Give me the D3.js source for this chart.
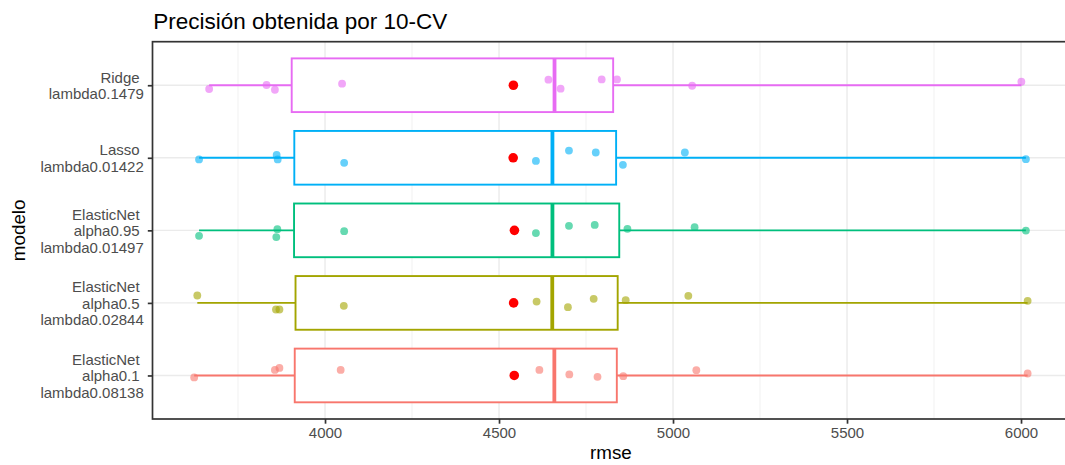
<!DOCTYPE html>
<html>
<head>
<meta charset="utf-8">
<script src="https://cdn.jsdelivr.net/npm/d3@7"></script>
<style>
  html, body { margin: 0; padding: 0; background: #fff; overflow: hidden; }
  svg { display: block; }
  text { font-family: "Liberation Sans", Arial, sans-serif; }
</style>
</head>
<body>
<svg id="chart" width="1065" height="465"></svg>
<script>
// Model labels, top to bottom (trailing spaces come from paste())
const modelos = [
  "Ridge \nlambda0.1479",
  "Lasso \nlambda0.01422",
  "ElasticNet \nalpha0.95 \nlambda0.01497",
  "ElasticNet \nalpha0.5 \nlambda0.02844",
  "ElasticNet \nalpha0.1 \nlambda0.08138"
];
const colores = ["#E76BF3", "#00B0F6", "#00BF7D", "#A3A500", "#F8766D"];

// RMSE of each of the 10 CV folds per model
const rmseRidge  = [3667, 3832, 3856, 4049, 4642, 4677, 4795, 4839, 5055, 6001];
const rmseLasso  = [3638, 3861, 3864, 4055, 4606, 4701, 4778, 4856, 5034, 6014];
const rmseEN095  = [3638, 3863, 3860, 4055, 4606, 4701, 4775, 4869, 5062, 6014];
const rmseEN05   = [3633, 3859, 3869, 4054, 4608, 4698, 4772, 4864, 5044, 6019];
const rmseEN01   = [3624, 3856, 3869, 4045, 4616, 4702, 4783, 4857, 5067, 6019];

// Vertical jitter of each fold point (in category units, positive = up)
const jitRidge = [-0.052, 0.003, -0.062, 0.021, 0.077, -0.048, 0.080, 0.080, -0.007, 0.048];
const jitLasso = [-0.023, 0.040, -0.023, -0.070, -0.043, 0.100, 0.073, -0.097, 0.073, -0.019];
const jitEN095 = [-0.075, 0.016, -0.093, -0.011, -0.038, 0.062, 0.075, 0.021, 0.044, -0.003];
const jitEN05  = [0.102, -0.091, -0.091, -0.040, 0.019, -0.059, 0.056, 0.037, 0.097, 0.029];
const jitEN01  = [-0.027, 0.077, 0.104, 0.077, 0.077, 0.014, -0.019, -0.010, 0.073, 0.027];

const xTicks = [4000, 4500, 5000, 5500, 6000];
const xMinorTicks = [3750, 4250, 4750, 5250, 5750];

const titulo = "Precisión obtenida por 10-CV";
const xTitulo = "rmse";
const yTitulo = "modelo";

const series = [
  { modelo: modelos[0], color: colores[0], rmse: rmseRidge, jit: jitRidge },
  { modelo: modelos[1], color: colores[1], rmse: rmseLasso, jit: jitLasso },
  { modelo: modelos[2], color: colores[2], rmse: rmseEN095, jit: jitEN095 },
  { modelo: modelos[3], color: colores[3], rmse: rmseEN05,  jit: jitEN05 },
  { modelo: modelos[4], color: colores[4], rmse: rmseEN01,  jit: jitEN01 }
];

// Panel geometry
const panel = { left: 152.5, right: 1069.3, top: 41.7, bottom: 419 };
const svg = d3.select("#chart");

// Box statistics (R type-7 quantiles, Tukey whiskers)
series.forEach(s => {
  const v = s.rmse.slice().sort(d3.ascending);
  s.q1 = d3.quantile(v, 0.25);
  s.med = d3.quantile(v, 0.5);
  s.q3 = d3.quantile(v, 0.75);
  const iqr = s.q3 - s.q1;
  s.lo = d3.min(v.filter(d => d >= s.q1 - 1.5 * iqr));
  s.hi = d3.max(v.filter(d => d <= s.q3 + 1.5 * iqr));
  s.mean = d3.mean(v);
});

const allVals = series.flatMap(s => s.rmse);
const [vmin, vmax] = d3.extent(allVals);
const pad = (vmax - vmin) * 0.05;

const x = d3.scaleLinear().domain([vmin - pad, vmax + pad]).range([panel.left, panel.right]);
const y = d3.scalePoint().domain(modelos).range([panel.top, panel.bottom]).padding(0.6);
const step = y.step();

// Gridlines
const grid = svg.append("g");
grid.selectAll("line.minor").data(xMinorTicks).join("line")
  .attr("x1", d => x(d)).attr("x2", d => x(d))
  .attr("y1", panel.top).attr("y2", panel.bottom)
  .attr("stroke", "#EBEBEB").attr("stroke-width", 0.7);
grid.selectAll("line.majx").data(xTicks).join("line")
  .attr("x1", d => x(d)).attr("x2", d => x(d))
  .attr("y1", panel.top).attr("y2", panel.bottom)
  .attr("stroke", "#EBEBEB").attr("stroke-width", 1.4);
grid.selectAll("line.majy").data(modelos).join("line")
  .attr("x1", panel.left).attr("x2", panel.right)
  .attr("y1", d => y(d)).attr("y2", d => y(d))
  .attr("stroke", "#EBEBEB").attr("stroke-width", 1.4);

// Boxplots
const boxHalf = step * 0.37;
const lw = 1.9;
const boxes = svg.append("g").selectAll("g").data(series).join("g");
boxes.append("line")
  .attr("x1", d => x(d.lo)).attr("x2", d => x(d.q1))
  .attr("y1", d => y(d.modelo)).attr("y2", d => y(d.modelo))
  .attr("stroke", d => d.color).attr("stroke-width", lw);
boxes.append("line")
  .attr("x1", d => x(d.q3)).attr("x2", d => x(d.hi))
  .attr("y1", d => y(d.modelo)).attr("y2", d => y(d.modelo))
  .attr("stroke", d => d.color).attr("stroke-width", lw);
boxes.append("rect")
  .attr("x", d => x(d.q1)).attr("width", d => x(d.q3) - x(d.q1))
  .attr("y", d => y(d.modelo) - boxHalf).attr("height", boxHalf * 2)
  .attr("fill", "#fff").attr("stroke", d => d.color).attr("stroke-width", lw);
boxes.append("line")
  .attr("x1", d => x(d.med)).attr("x2", d => x(d.med))
  .attr("y1", d => y(d.modelo) - boxHalf).attr("y2", d => y(d.modelo) + boxHalf)
  .attr("stroke", d => d.color).attr("stroke-width", lw * 2);

// Jittered fold points
const pts = series.flatMap(s => s.rmse.map((v, i) => ({ v, j: s.jit[i], modelo: s.modelo, color: s.color })));
svg.append("g").selectAll("circle").data(pts).join("circle")
  .attr("cx", d => x(d.v))
  .attr("cy", d => y(d.modelo) - d.j * step)
  .attr("r", 3.9)
  .attr("fill", d => d.color)
  .attr("fill-opacity", 0.6);

// Mean per model
svg.append("g").selectAll("circle").data(series).join("circle")
  .attr("cx", d => x(d.mean))
  .attr("cy", d => y(d.modelo))
  .attr("r", 4.8)
  .attr("fill", "#FF0000");

// Panel border
svg.append("rect")
  .attr("x", panel.left).attr("y", panel.top)
  .attr("width", panel.right - panel.left).attr("height", panel.bottom - panel.top)
  .attr("fill", "none").attr("stroke", "#333333").attr("stroke-width", 1.7);

// X axis
const xAxis = svg.append("g")
  .attr("transform", `translate(0,${panel.bottom})`)
  .call(d3.axisBottom(x).tickValues(xTicks).tickSize(4.7).tickPadding(3.6).tickFormat(d3.format("d")));
xAxis.select(".domain").remove();
xAxis.selectAll(".tick line").attr("stroke", "#333333").attr("stroke-width", 1.7);
xAxis.selectAll(".tick text")
  .attr("fill", "#4D4D4D").style("font-size", "15px")
  .style("font-family", "'Liberation Sans', Arial, sans-serif");

// Y axis with multi-line labels
const yAxis = svg.append("g")
  .attr("transform", `translate(${panel.left},0)`)
  .call(d3.axisLeft(y).tickSize(4.7).tickPadding(4));
yAxis.select(".domain").remove();
yAxis.selectAll(".tick line").attr("stroke", "#333333").attr("stroke-width", 1.7);
const lineH = 16.5;
yAxis.selectAll(".tick text").each(function(d) {
  const t = d3.select(this);
  const lines = d.split("\n");
  t.text(null)
    .attr("fill", "#4D4D4D")
    .attr("xml:space", "preserve")
    .style("white-space", "pre")
    .style("font-size", "15px")
    .style("font-family", "'Liberation Sans', Arial, sans-serif")
    .attr("dy", null);
  const x0 = +t.attr("x");
  lines.forEach((ln, i) => {
    t.append("tspan")
      .attr("x", x0)
      .attr("y", (i - (lines.length - 1) / 2) * lineH)
      .attr("dy", "0.35em")
      .text(ln);
  });
});

// Titles
svg.append("text")
  .attr("x", panel.left + 0.8).attr("y", 28.5)
  .attr("fill", "#000").style("font-size", "22.5px")
  .text(titulo);
svg.append("text")
  .attr("x", (panel.left + panel.right) / 2).attr("y", 459)
  .attr("text-anchor", "middle")
  .attr("fill", "#000").style("font-size", "18.8px")
  .text(xTitulo);
svg.append("text")
  .attr("transform", `translate(24.5,${(panel.top + panel.bottom) / 2}) rotate(-90)`)
  .attr("text-anchor", "middle")
  .attr("fill", "#000").style("font-size", "18.8px")
  .text(yTitulo);
</script>
</body>
</html>
